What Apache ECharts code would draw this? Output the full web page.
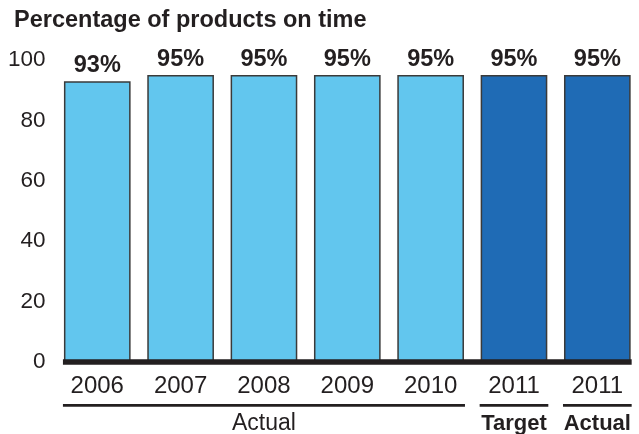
<!DOCTYPE html>
<html><head><meta charset="utf-8">
<script src="https://cdn.jsdelivr.net/npm/echarts@6/dist/echarts.min.js"></script>
<style>html,body{margin:0;padding:0;background:#fff}#chart{width:639px;height:434px}</style>
</head><body><div id="chart"></div>
<script>
// Share of products delivered on time, by year
const years = ['2006', '2007', '2008', '2009', '2010', '2011', '2011'];
const onTime = [93, 95, 95, 95, 95, 95, 95];
const kinds = ['Actual', 'Actual', 'Actual', 'Actual', 'Actual', 'Target', 'Actual'];
const yTicks = [0, 20, 40, 60, 80, 100];
// Bracket groups under the year labels (index ranges into years)
const groupLabels = ['Actual', 'Target', 'Actual'];
const groupFrom = [0, 5, 6];
const groupTo = [4, 5, 6];
const groupBold = [false, true, true];

const FONT = '"Liberation Sans", Arial, Helvetica, sans-serif';
const INK = '#231f20';
const LIGHT = '#62c6ee';
const DARK = '#1f6bb5';

const chart = echarts.init(document.getElementById('chart'));

const option = {
  backgroundColor: '#fff',
  animation: false,
  textStyle: { fontFamily: FONT, color: INK },
  title: {
    text: 'Percentage of products on time',
    left: 9, top: 4,
    textStyle: { fontFamily: FONT, fontSize: 23.5, fontWeight: 'bold', color: INK }
  },
  grid: { left: 55.6, width: 586.8, top: 60, height: 302, containLabel: false },
  xAxis: {
    type: 'category',
    data: years,
    axisLine: { show: false },
    axisTick: { show: false },
    axisLabel: { fontFamily: FONT, fontSize: 24, color: INK, margin: 12 }
  },
  yAxis: {
    type: 'value',
    min: yTicks[0], max: yTicks[yTicks.length - 1], interval: 20,
    axisLine: { show: false },
    axisTick: { show: false },
    splitLine: { show: false },
    axisLabel: { fontFamily: FONT, fontSize: 22.5, color: INK, margin: 10 }
  },
  series: [{
    type: 'bar',
    barCategoryGap: '20%',
    data: onTime.map((v, i) => ({
      value: v,
      itemStyle: { color: i >= 5 ? DARK : LIGHT }
    })),
    itemStyle: { borderColor: '#3a3a3a', borderWidth: 1.5 },
    label: {
      show: true, position: 'top', distance: 4,
      formatter: '{c}%',
      fontFamily: FONT, fontSize: 23.5, fontWeight: 'bold', color: INK
    }
  }]
};
chart.setOption(option);

// Baseline and group brackets, placed from the category scale
function decorate() {
  const x0 = chart.convertToPixel({ xAxisIndex: 0 }, 0);
  const x1 = chart.convertToPixel({ xAxisIndex: 0 }, 1);
  const step = x1 - x0;
  const half = step * 0.8 / 2;
  const yZero = chart.convertToPixel({ yAxisIndex: 0 }, 0);
  const left = i => chart.convertToPixel({ xAxisIndex: 0 }, i) - half;
  const right = i => chart.convertToPixel({ xAxisIndex: 0 }, i) + half;
  const elements = [{
    type: 'rect',
    shape: { x: left(0) - 1, y: yZero - 2.7, width: right(years.length - 1) - left(0) + 2, height: 5.4 },
    style: { fill: INK }, z: 10
  }];
  groupLabels.forEach((lab, g) => {
    const a = left(groupFrom[g]) - 1, b = right(groupTo[g]) + 1;
    elements.push({
      type: 'rect', shape: { x: a, y: yZero + 42, width: b - a, height: 2.8 },
      style: { fill: INK }
    });
    elements.push({
      type: 'text', x: (a + b) / 2, y: yZero + 62,
      style: {
        text: lab, fill: INK,
        font: (groupBold[g] ? 'bold 22px ' : '23px ') + FONT,
        align: 'center', verticalAlign: 'middle'
      }
    });
  });
  chart.setOption({ graphic: elements });
}
decorate();
</script>
</body></html>
